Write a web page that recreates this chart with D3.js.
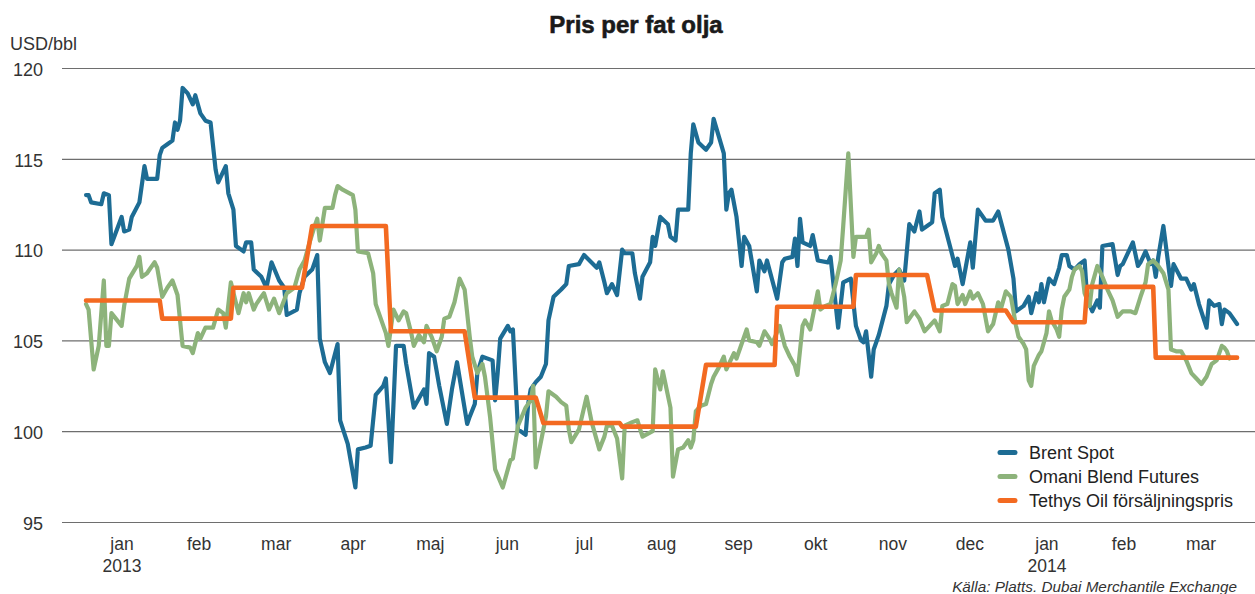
<!DOCTYPE html>
<html lang="sv">
<head>
<meta charset="utf-8">
<title>Pris per fat olja</title>
<script src="https://cdn.jsdelivr.net/npm/d3@7"></script>
<style>
  html, body { margin: 0; padding: 0; background: #fff; }
  svg { display: block; font-family: "Liberation Sans", Arial, sans-serif; }
</style>
</head>
<body>
<svg id="chart" width="1255" height="594"></svg>
<script>
// Brent Spot, USD/bbl
const brentSpot = [
  ["2013-01-02",113.0],["2013-01-03",113.0],["2013-01-04",112.6],["2013-01-08",112.5],["2013-01-09",113.1],
  ["2013-01-11",113.0],["2013-01-12",110.3],["2013-01-16",111.8],["2013-01-17",111.0],["2013-01-19",111.1],
  ["2013-01-20",111.8],["2013-01-23",112.6],["2013-01-25",114.6],["2013-01-26",113.9],["2013-01-30",113.9],
  ["2013-01-31",115.2],["2013-02-01",115.6],["2013-02-03",115.8],["2013-02-05",116.0],["2013-02-06",117.0],
  ["2013-02-07",116.6],["2013-02-08",117.1],["2013-02-09",118.9],["2013-02-11",118.6],["2013-02-13",118.0],
  ["2013-02-14",118.5],["2013-02-16",117.5],["2013-02-18",117.1],["2013-02-20",117.0],["2013-02-22",114.4],
  ["2013-02-23",113.7],["2013-02-26",114.6],["2013-02-27",113.1],["2013-03-01",112.2],["2013-03-02",110.2],
  ["2013-03-05",109.9],["2013-03-06",110.4],["2013-03-08",110.4],["2013-03-09",108.9],["2013-03-12",108.5],
  ["2013-03-14",107.9],["2013-03-16",109.3],["2013-03-19",108.3],["2013-03-21",107.9],["2013-03-22",106.4],
  ["2013-03-26",106.7],["2013-03-27",107.6],["2013-03-29",108.5],["2013-04-01",108.9],["2013-04-03",109.7],
  ["2013-04-04",105.1],["2013-04-06",103.8],["2013-04-08",103.2],["2013-04-11",104.8],["2013-04-12",100.6],
  ["2013-04-15",99.3],["2013-04-18",96.9],["2013-04-19",99.0],["2013-04-22",99.1],["2013-04-24",99.2],
  ["2013-04-26",102.0],["2013-04-29",102.5],["2013-04-30",102.9],["2013-05-02",98.3],["2013-05-04",104.7],
  ["2013-05-07",104.7],["2013-05-08",103.7],["2013-05-11",101.3],["2013-05-15",102.3],["2013-05-16",101.5],
  ["2013-05-17",104.3],["2013-05-19",104.1],["2013-05-21",102.5],["2013-05-24",100.4],["2013-05-26",102.3],
  ["2013-05-28",103.8],["2013-06-01",100.4],["2013-06-02",100.8],["2013-06-04",101.5],["2013-06-05",103.2],
  ["2013-06-07",104.1],["2013-06-11",103.9],["2013-06-12",101.7],["2013-06-13",103.2],["2013-06-14",105.1],
  ["2013-06-17",105.8],["2013-06-18",105.5],["2013-06-19",105.6],["2013-06-21",100.1],["2013-06-24",99.8],
  ["2013-06-25",101.5],["2013-06-26",102.3],["2013-06-28",102.7],["2013-06-30",103.0],["2013-07-02",103.7],
  ["2013-07-03",106.1],["2013-07-05",107.4],["2013-07-08",107.8],["2013-07-10",108.1],["2013-07-11",109.1],
  ["2013-07-15",109.2],["2013-07-17",109.7],["2013-07-22",109.0],["2013-07-23",109.3],["2013-07-25",108.2],
  ["2013-07-26",107.6],["2013-07-28",108.1],["2013-07-30",107.5],["2013-08-01",110.0],["2013-08-02",109.8],
  ["2013-08-05",109.8],["2013-08-06",108.7],["2013-08-08",107.3],["2013-08-09",108.5],["2013-08-12",109.3],
  ["2013-08-13",110.7],["2013-08-14",110.2],["2013-08-16",111.8],["2013-08-19",111.4],["2013-08-20",110.7],
  ["2013-08-22",110.5],["2013-08-23",112.2],["2013-08-27",112.2],["2013-08-28",115.3],["2013-08-29",116.9],
  ["2013-08-31",115.9],["2013-09-03",115.5],["2013-09-05",115.9],["2013-09-06",117.2],["2013-09-10",115.3],
  ["2013-09-11",112.2],["2013-09-12",113.1],["2013-09-13",113.3],["2013-09-15",111.8],["2013-09-17",109.1],
  ["2013-09-18",110.7],["2013-09-20",110.2],["2013-09-23",107.7],["2013-09-24",109.4],["2013-09-26",108.8],
  ["2013-09-27",109.4],["2013-10-01",107.3],["2013-10-03",109.3],["2013-10-04",109.5],["2013-10-07",109.6],
  ["2013-10-08",110.6],["2013-10-09",109.1],["2013-10-10",111.7],["2013-10-11",110.4],["2013-10-14",110.2],
  ["2013-10-15",110.8],["2013-10-17",109.4],["2013-10-21",109.3],["2013-10-22",109.6],["2013-10-24",107.0],
  ["2013-10-25",105.7],["2013-10-27",108.2],["2013-10-30",108.4],["2013-11-01",105.8],["2013-11-03",105.0],
  ["2013-11-04",104.9],["2013-11-05",105.5],["2013-11-07",103.0],["2013-11-08",104.5],["2013-11-10",105.3],
  ["2013-11-13",106.9],["2013-11-14",108.1],["2013-11-16",108.6],["2013-11-18",108.9],["2013-11-20",108.3],
  ["2013-11-22",111.4],["2013-11-24",111.0],["2013-11-26",112.1],["2013-11-27",111.1],["2013-11-29",111.3],
  ["2013-12-01",111.5],["2013-12-02",113.1],["2013-12-04",113.3],["2013-12-05",111.8],["2013-12-08",110.2],
  ["2013-12-10",109.1],["2013-12-11",109.5],["2013-12-13",108.1],["2013-12-16",110.4],["2013-12-17",109.0],
  ["2013-12-19",112.2],["2013-12-22",111.6],["2013-12-25",111.6],["2013-12-27",112.1],["2013-12-31",110.0],
  ["2014-01-02",108.4],["2014-01-03",106.6],["2014-01-06",106.9],["2014-01-08",107.4],["2014-01-09",106.5],
  ["2014-01-11",107.6],["2014-01-12",107.1],["2014-01-13",108.1],["2014-01-14",107.1],["2014-01-16",108.4],
  ["2014-01-18",108.1],["2014-01-20",109.0],["2014-01-21",109.7],["2014-01-23",109.7],["2014-01-24",109.1],
  ["2014-01-26",108.9],["2014-01-28",109.2],["2014-01-30",109.4],["2014-01-31",107.3],["2014-02-02",106.6],
  ["2014-02-04",107.2],["2014-02-05",106.8],["2014-02-06",110.2],["2014-02-10",110.3],["2014-02-12",108.6],
  ["2014-02-13",109.1],["2014-02-14",109.2],["2014-02-18",110.4],["2014-02-20",109.1],["2014-02-21",109.3],
  ["2014-02-23",109.9],["2014-02-25",109.2],["2014-02-26",109.4],["2014-02-27",108.5],["2014-02-28",109.6],
  ["2014-03-02",111.3],["2014-03-05",108.0],["2014-03-06",109.2],["2014-03-09",108.4],["2014-03-11",108.4],
  ["2014-03-13",107.8],["2014-03-14",108.1],["2014-03-16",107.0],["2014-03-19",105.7],["2014-03-20",107.2],
  ["2014-03-22",106.9],["2014-03-24",107.0],["2014-03-25",105.9],["2014-03-26",106.7],["2014-03-28",106.5],
  ["2014-03-31",105.9]
];

// Omani Blend Futures, USD/bbl
const omaniBlend = [
  ["2013-01-02",107.0],["2013-01-03",106.7],["2013-01-05",103.4],["2013-01-07",104.7],["2013-01-09",108.3],
  ["2013-01-10",104.7],["2013-01-11",104.7],["2013-01-12",106.5],["2013-01-16",105.8],["2013-01-17",106.9],
  ["2013-01-19",108.4],["2013-01-22",109.1],["2013-01-23",109.6],["2013-01-24",108.5],["2013-01-26",108.7],
  ["2013-01-27",108.9],["2013-01-29",109.3],["2013-01-30",109.0],["2013-02-01",107.4],["2013-02-03",107.9],
  ["2013-02-05",108.3],["2013-02-07",107.5],["2013-02-09",104.7],["2013-02-12",104.6],["2013-02-13",104.3],
  ["2013-02-15",105.4],["2013-02-16",105.1],["2013-02-18",105.7],["2013-02-21",105.7],["2013-02-23",106.7],
  ["2013-02-25",106.5],["2013-02-26",105.7],["2013-02-28",108.2],["2013-03-03",106.5],["2013-03-05",107.6],
  ["2013-03-06",107.1],["2013-03-07",107.6],["2013-03-09",106.7],["2013-03-10",107.0],["2013-03-12",107.4],
  ["2013-03-13",107.6],["2013-03-15",106.7],["2013-03-17",107.3],["2013-03-19",106.5],["2013-03-22",107.6],
  ["2013-03-25",107.9],["2013-03-27",108.9],["2013-03-29",109.4],["2013-03-31",110.4],["2013-04-02",111.3],
  ["2013-04-03",111.7],["2013-04-04",110.5],["2013-04-06",112.3],["2013-04-09",112.3],["2013-04-10",113.0],
  ["2013-04-11",113.5],["2013-04-13",113.3],["2013-04-17",113.0],["2013-04-18",112.2],["2013-04-19",109.9],
  ["2013-04-23",109.8],["2013-04-25",108.7],["2013-04-26",107.0],["2013-04-30",105.4],["2013-05-01",104.7],
  ["2013-05-03",106.7],["2013-05-05",106.1],["2013-05-07",106.6],["2013-05-08",106.5],["2013-05-10",105.4],
  ["2013-05-11",104.7],["2013-05-13",105.3],["2013-05-15",104.9],["2013-05-16",105.8],["2013-05-18",105.2],
  ["2013-05-20",104.4],["2013-05-22",105.2],["2013-05-23",106.2],["2013-05-25",106.3],["2013-05-27",107.1],
  ["2013-05-29",108.4],["2013-05-31",107.8],["2013-06-02",105.2],["2013-06-03",104.1],["2013-06-05",103.2],
  ["2013-06-07",103.7],["2013-06-08",103.0],["2013-06-10",100.8],["2013-06-12",97.9],["2013-06-15",96.9],
  ["2013-06-17",97.9],["2013-06-18",98.4],["2013-06-19",98.5],["2013-06-21",100.3],["2013-06-24",101.3],
  ["2013-06-26",101.7],["2013-06-27",102.5],["2013-06-28",98.0],["2013-07-02",100.8],["2013-07-03",102.2],
  ["2013-07-06",101.9],["2013-07-08",101.6],["2013-07-10",101.4],["2013-07-11",100.1],["2013-07-12",99.4],
  ["2013-07-15",100.1],["2013-07-18",101.9],["2013-07-20",100.5],["2013-07-23",99.0],["2013-07-25",99.7],
  ["2013-07-26",100.3],["2013-07-28",100.3],["2013-07-30",99.6],["2013-08-01",97.4],["2013-08-02",100.3],
  ["2013-08-05",100.5],["2013-08-07",100.6],["2013-08-09",99.7],["2013-08-13",100.0],["2013-08-14",103.4],
  ["2013-08-16",102.3],["2013-08-17",103.3],["2013-08-20",101.3],["2013-08-21",97.5],["2013-08-23",99.0],
  ["2013-08-25",99.1],["2013-08-27",99.5],["2013-08-28",99.1],["2013-08-29",99.5],["2013-08-30",101.1],
  ["2013-09-01",101.4],["2013-09-03",101.5],["2013-09-05",102.6],["2013-09-06",103.0],["2013-09-08",103.5],
  ["2013-09-10",104.1],["2013-09-11",103.4],["2013-09-14",104.3],["2013-09-15",104.0],["2013-09-17",104.8],
  ["2013-09-19",105.6],["2013-09-20",105.0],["2013-09-23",104.9],["2013-09-24",104.7],["2013-09-26",105.5],
  ["2013-09-28",105.1],["2013-09-29",104.8],["2013-10-02",105.8],["2013-10-04",104.7],["2013-10-06",104.1],
  ["2013-10-08",103.6],["2013-10-09",103.1],["2013-10-11",105.8],["2013-10-12",106.1],["2013-10-14",105.6],
  ["2013-10-16",107.0],["2013-10-17",107.7],["2013-10-18",106.7],["2013-10-20",106.9],["2013-10-22",107.0],
  ["2013-10-24",108.1],["2013-10-26",109.4],["2013-10-27",111.3],["2013-10-29",115.3],["2013-10-31",109.6],
  ["2013-11-01",110.7],["2013-11-04",110.7],["2013-11-05",110.7],["2013-11-06",111.1],["2013-11-07",109.3],
  ["2013-11-09",109.8],["2013-11-10",110.2],["2013-11-11",109.8],["2013-11-13",109.4],["2013-11-14",108.1],
  ["2013-11-15",107.6],["2013-11-17",106.8],["2013-11-18",108.9],["2013-11-20",107.4],["2013-11-21",106.0],
  ["2013-11-24",106.6],["2013-11-26",106.2],["2013-11-28",105.5],["2013-11-30",105.8],["2013-12-02",106.1],
  ["2013-12-04",105.5],["2013-12-05",106.9],["2013-12-07",107.0],["2013-12-09",108.1],["2013-12-10",108.0],
  ["2013-12-11",107.0],["2013-12-13",107.5],["2013-12-14",107.0],["2013-12-16",107.7],["2013-12-17",107.3],
  ["2013-12-19",107.6],["2013-12-21",107.0],["2013-12-23",105.5],["2013-12-25",105.9],["2013-12-27",107.1],
  ["2013-12-28",106.7],["2013-12-30",107.7],["2014-01-01",107.4],["2014-01-03",105.8],["2014-01-04",105.2],
  ["2014-01-06",104.8],["2014-01-07",104.5],["2014-01-08",102.8],["2014-01-09",102.5],["2014-01-10",103.6],
  ["2014-01-12",104.2],["2014-01-13",104.4],["2014-01-15",105.4],["2014-01-16",106.6],["2014-01-17",106.1],
  ["2014-01-19",105.6],["2014-01-20",105.2],["2014-01-21",106.7],["2014-01-22",107.4],["2014-01-24",107.8],
  ["2014-01-25",108.5],["2014-01-26",108.9],["2014-01-28",109.1],["2014-01-29",108.8],["2014-01-30",107.6],
  ["2014-02-01",106.9],["2014-02-02",108.1],["2014-02-04",109.1],["2014-02-06",108.5],["2014-02-08",107.8],
  ["2014-02-10",107.2],["2014-02-12",106.3],["2014-02-14",106.6],["2014-02-17",106.6],["2014-02-19",106.5],
  ["2014-02-21",107.4],["2014-02-23",108.2],["2014-02-24",109.2],["2014-02-26",109.4],["2014-02-28",109.1],
  ["2014-03-02",108.7],["2014-03-04",107.8],["2014-03-05",104.5],["2014-03-07",104.4],["2014-03-09",104.4],
  ["2014-03-11",103.9],["2014-03-13",103.2],["2014-03-15",102.9],["2014-03-17",102.6],["2014-03-19",103.0],
  ["2014-03-21",103.7],["2014-03-23",103.9],["2014-03-25",104.7],["2014-03-26",104.6],["2014-03-27",104.4],
  ["2014-03-28",104.0]
];

// Tethys Oil försäljningspris: [first day, last day, price] per month
const tethysPrice = [
  ["2013-01-02","2013-01-31",107.2],
  ["2013-02-01","2013-02-28",106.2],
  ["2013-03-01","2013-03-28",107.9],
  ["2013-04-01","2013-04-30",111.3],
  ["2013-05-02","2013-05-31",105.5],
  ["2013-06-04","2013-06-28",101.85],
  ["2013-07-01","2013-07-31",100.45],
  ["2013-08-01","2013-08-30",100.25],
  ["2013-09-03","2013-09-30",103.65],
  ["2013-10-01","2013-10-31",106.85],
  ["2013-11-01","2013-11-29",108.6],
  ["2013-12-02","2013-12-30",106.65],
  ["2014-01-02","2014-01-30",106.0],
  ["2014-01-31","2014-02-26",107.95],
  ["2014-02-27","2014-03-31",104.05]
];

const monthLabels = ["jan","feb","mar","apr","maj","jun","jul","aug","sep","okt","nov","dec","jan","feb","mar"];
const yearLabels = [[0,"2013"],[12,"2014"]];   // [month index, label]
const yTicks = [95,100,105,110,115,120];

const seriesInfo = [
  { name: "Brent Spot", color: "#1d6c94" },
  { name: "Omani Blend Futures", color: "#8db37b" },
  { name: "Tethys Oil försäljningspris", color: "#f36a21" }
];

const parseDate = d3.timeParse("%Y-%m-%d");
const svg = d3.select("#chart");

const x = d3.scaleTime()
  .domain([new Date(2013, 0, 1), new Date(2014, 3, 1)])
  .range([83.5, 1239.6]);

// month labels sit in equal-width slots along the same range
const monthBand = d3.scaleBand()
  .domain(d3.range(monthLabels.length))
  .range(x.range());

const y = d3.scaleLinear()
  .domain([95, 120])
  .range([522, 68]);

// Title
svg.append("text")
  .attr("x", 636)
  .attr("y", 32.5)
  .attr("text-anchor", "middle")
  .style("font-size", "24px")
  .style("font-weight", "bold")
  .style("fill", "#1a1a1a")
  .style("stroke", "#1a1a1a")
  .style("stroke-width", 0.6)
  .text("Pris per fat olja");

// Unit label
svg.append("text")
  .attr("x", 10)
  .attr("y", 49.5)
  .style("font-size", "18px")
  .style("fill", "#333")
  .text("USD/bbl");

// Y axis with gridlines
const yAxis = svg.append("g")
  .attr("transform", "translate(62,0)")
  .call(d3.axisLeft(y).tickValues(yTicks).tickSize(-(1255 - 62)).tickPadding(19));
yAxis.select(".domain").remove();
yAxis.selectAll(".tick line").attr("stroke", "#6e6e6e").attr("stroke-width", 1.2);
yAxis.selectAll(".tick text")
  .attr("dy", "0.4em")
  .style("font-size", "18px")
  .style("font-family", "'Liberation Sans', Arial, sans-serif")
  .style("fill", "#333");

// X axis: month names
const xAxis = svg.append("g")
  .attr("transform", "translate(0,522)")
  .call(d3.axisBottom(monthBand).tickSize(0).tickPadding(16)
    .tickFormat(i => monthLabels[i]));
xAxis.select(".domain").remove();
xAxis.selectAll(".tick text")
  .style("font-size", "17.5px")
  .style("font-family", "'Liberation Sans', Arial, sans-serif")
  .style("fill", "#333");

svg.selectAll(".year-label")
  .data(yearLabels)
  .enter()
  .append("text")
  .attr("class", "year-label")
  .attr("x", d => monthBand(d[0]) + monthBand.bandwidth() / 2)
  .attr("y", 571.5)
  .attr("text-anchor", "middle")
  .style("font-size", "17.5px")
  .style("fill", "#333")
  .text(d => d[1]);

// Lines
const line = d3.line()
  .x(d => x(d.date))
  .y(d => y(d.value));

const toPoints = arr => arr.map(d => ({ date: parseDate(d[0]), value: d[1] }));
const tethysPoints = tethysPrice.flatMap(d => [
  { date: parseDate(d[0]), value: d[2] },
  { date: parseDate(d[1]), value: d[2] }
]);

const seriesData = [toPoints(brentSpot), toPoints(omaniBlend), tethysPoints];
const strokeWidths = [4.2, 4.2, 4.6];

svg.append("g")
  .attr("class", "lines")
  .selectAll("path")
  .data(seriesData)
  .enter()
  .append("path")
  .attr("d", line)
  .attr("fill", "none")
  .attr("stroke", (d, i) => seriesInfo[i].color)
  .attr("stroke-width", (d, i) => strokeWidths[i])
  .attr("stroke-linejoin", "round")
  .attr("stroke-linecap", "round");

// Legend
const legend = svg.append("g")
  .attr("class", "legend")
  .attr("transform", "translate(998,452.5)");

const legendItems = legend.selectAll(".legend-item")
  .data(seriesInfo)
  .enter()
  .append("g")
  .attr("class", "legend-item")
  .attr("transform", (d, i) => `translate(0, ${i * 24})`);

legendItems.append("line")
  .attr("x1", 2)
  .attr("x2", 17)
  .attr("stroke", d => d.color)
  .attr("stroke-width", 5)
  .attr("stroke-linecap", "round");

legendItems.append("text")
  .attr("x", 31)
  .attr("y", 6.3)
  .style("font-size", "18px")
  .style("fill", "#222")
  .text(d => d.name);

// Source
svg.append("text")
  .attr("x", 1237)
  .attr("y", 592)
  .attr("text-anchor", "end")
  .style("font-size", "15.3px")
  .style("font-style", "italic")
  .style("fill", "#333")
  .text("Källa: Platts. Dubai Merchantile Exchange");
</script>
</body>
</html>
